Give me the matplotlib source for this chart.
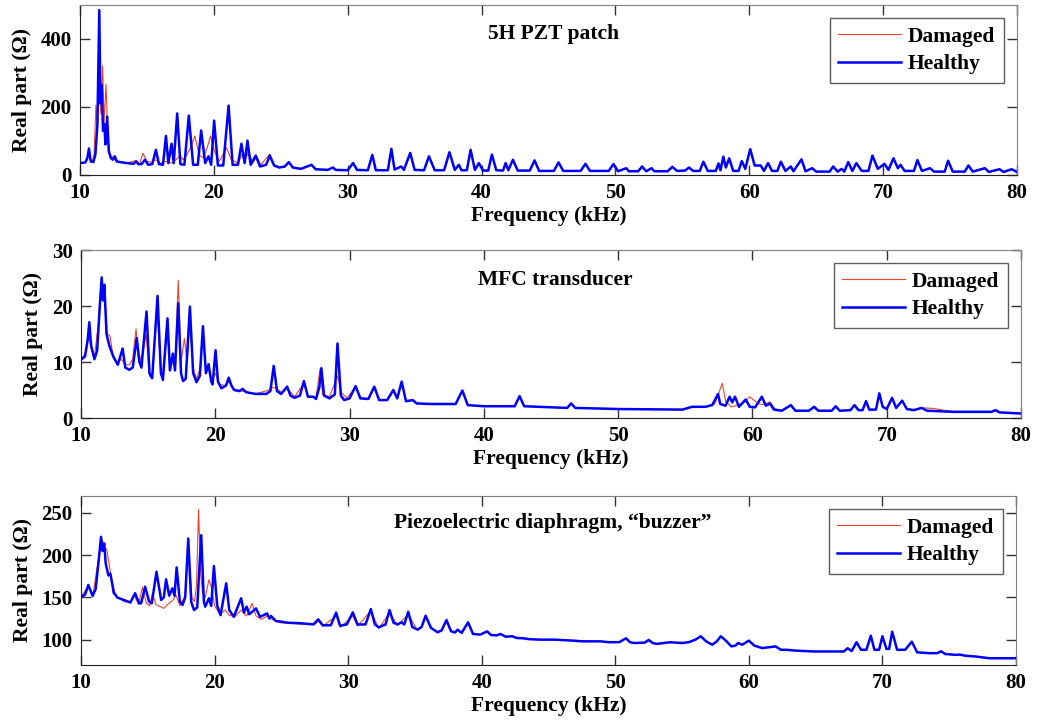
import numpy as np
import matplotlib.pyplot as plt

plt.rcParams['font.family'] = ['Liberation Serif', 'DejaVu Serif']
plt.rcParams['font.weight'] = 'bold'

# (frequency kHz, real part Ohm) points
# --- 5H PZT patch ---
pzt_healthy = [
    (10.0, 35), (10.4, 37), (10.55, 50), (10.67, 78), (10.8, 40), (11.0, 38), (11.15, 60), (11.3, 150),
    (11.44, 485), (11.53, 210), (11.62, 265), (11.72, 130), (11.82, 150), (11.9, 90), (12.03, 172),
    (12.15, 70), (12.3, 50), (12.45, 45), (12.6, 55), (12.75, 40), (13.0, 38), (13.5, 35), (14.0, 33),
    (14.2, 40), (14.35, 32), (14.6, 32), (14.85, 45), (15.1, 30), (15.4, 32), (15.67, 74), (15.9, 32),
    (16.2, 30), (16.42, 115), (16.6, 35), (16.84, 92), (17.0, 35), (17.26, 181), (17.5, 32), (17.8, 30),
    (18.13, 175), (18.45, 30), (18.8, 30), (19.05, 131), (19.35, 35), (19.6, 55), (19.8, 30), (20.02, 160),
    (20.3, 28), (20.7, 28), (21.1, 204), (21.4, 30), (21.8, 30), (22.06, 92), (22.3, 35), (22.51, 101),
    (22.75, 30), (23.13, 57), (23.45, 25), (23.9, 30), (24.18, 57), (24.5, 28), (24.9, 22), (25.3, 25),
    (25.6, 38), (25.9, 22), (26.5, 18), (27.3, 30), (27.6, 17), (28.5, 15), (28.9, 22), (29.1, 15),
    (30.0, 14), (30.4, 35), (30.7, 15), (31.5, 14), (31.84, 59), (32.1, 14), (33.0, 14), (33.26, 77),
    (33.5, 16), (34.0, 25), (34.2, 15), (34.67, 65), (35.0, 15), (35.7, 14), (36.07, 55), (36.5, 14),
    (37.2, 14), (37.6, 67), (38.0, 15), (38.3, 30), (38.5, 14), (38.9, 14), (39.18, 74), (39.5, 15),
    (39.8, 35), (40.1, 13), (40.5, 13), (40.77, 60), (41.1, 14), (41.6, 13), (41.8, 35), (42.0, 14),
    (42.34, 45), (42.7, 13), (43.6, 13), (43.96, 43), (44.3, 12), (45.4, 12), (45.75, 37), (46.1, 12),
    (47.4, 12), (47.76, 33), (48.1, 12), (49.5, 12), (49.85, 32), (50.2, 11), (50.8, 20), (51.0, 11),
    (51.7, 11), (51.99, 25), (52.3, 11), (52.7, 20), (52.9, 11), (53.9, 11), (54.25, 24), (54.6, 12),
    (55.2, 13), (55.5, 22), (55.8, 12), (56.3, 12), (56.57, 39), (56.9, 12), (57.5, 12), (57.7, 34),
    (57.85, 14), (58.06, 54), (58.25, 22), (58.5, 49), (58.8, 12), (59.2, 12), (59.44, 41), (59.7, 18),
    (60.07, 76), (60.4, 28), (60.85, 28), (61.1, 12), (61.4, 35), (61.7, 12), (62.1, 12), (62.36, 39),
    (62.7, 12), (63.1, 25), (63.3, 11), (63.9, 46), (64.2, 11), (64.7, 20), (65.0, 10), (66.0, 10),
    (66.27, 25), (66.6, 10), (66.9, 18), (67.1, 10), (67.39, 38), (67.7, 12), (68.0, 35), (68.4, 12),
    (68.9, 12), (69.2, 57), (69.6, 18), (70.1, 33), (70.4, 15), (70.77, 49), (71.1, 20), (71.3, 30),
    (71.6, 12), (72.3, 12), (72.56, 44), (72.9, 12), (73.5, 20), (73.8, 10), (74.6, 10), (74.85, 42),
    (75.2, 10), (76.1, 10), (76.37, 28), (76.7, 10), (77.6, 20), (77.9, 9), (78.7, 17), (79.0, 9),
    (79.6, 17), (80.0, 9),
]
# damaged curve where it departs from the healthy one
pzt_damaged_part = [
    (10.9, 38), (11.05, 60), (11.19, 205), (11.3, 140), (11.44, 260), (11.55, 180), (11.69, 321),
    (11.8, 150), (11.94, 267), (12.1, 100), (12.25, 60), (12.5, 50), (12.7, 40), (13.5, 35), (14.2, 43),
    (14.45, 33), (14.7, 64), (15.0, 40), (15.4, 38), (15.6, 45), (16.0, 35), (16.4, 40), (16.9, 35),
    (17.3, 50), (17.46, 58), (17.7, 45), (18.0, 60), (18.3, 85), (18.58, 115), (18.9, 60), (19.2, 50),
    (19.5, 80), (19.75, 115), (20.05, 70), (20.4, 40), (20.95, 80), (21.3, 45), (21.8, 35), (22.1, 60),
    (22.3, 40), (22.6, 70), (22.9, 35), (23.2, 55), (23.5, 30), (24.18, 62), (24.5, 28),
]

# --- MFC transducer ---
mfc_healthy = [
    (10.0, 10.4), (10.3, 11.0), (10.5, 14), (10.62, 17.1), (10.75, 13), (11.0, 10.5), (11.2, 12),
    (11.4, 20), (11.54, 25.1), (11.64, 21), (11.74, 23.8), (11.9, 15), (12.1, 13), (12.4, 11),
    (12.74, 9.5), (13.1, 12.4), (13.3, 9), (13.6, 8.6), (13.85, 9), (14.15, 14.3), (14.35, 10),
    (14.5, 9), (14.88, 19.0), (15.1, 8), (15.3, 7.1), (15.7, 21.8), (15.95, 8), (16.1, 6.8),
    (16.44, 17.8), (16.62, 8.5), (16.84, 11.5), (17.0, 8.5), (17.24, 20.5), (17.45, 8), (17.6, 6.6),
    (17.8, 7), (18.11, 19.9), (18.35, 8), (18.6, 6.4), (18.85, 7.5), (19.08, 16.4), (19.3, 8),
    (19.5, 9.6), (19.7, 6.5), (19.8, 6), (20.02, 12.1), (20.2, 6.5), (20.45, 5.3), (20.8, 5.8),
    (21.0, 7.2), (21.2, 5.8), (21.4, 5.0), (21.8, 4.8), (22.04, 5.2), (22.3, 4.6), (23.0, 4.3),
    (23.8, 4.3), (24.1, 4.8), (24.35, 9.3), (24.6, 4.8), (24.9, 4.3), (25.35, 5.6), (25.6, 4.0),
    (25.9, 3.6), (26.3, 4.0), (26.6, 6.6), (26.9, 3.8), (27.3, 3.8), (27.5, 3.4), (27.75, 5.5),
    (27.9, 8.9), (28.1, 4.0), (28.5, 3.5), (28.9, 4.2), (29.1, 13.3), (29.35, 4.0), (29.6, 3.2),
    (30.0, 3.5), (30.45, 5.7), (30.8, 3.5), (31.4, 3.4), (31.84, 5.6), (32.2, 3.2), (32.8, 3.2),
    (33.26, 5.0), (33.55, 3.5), (33.88, 6.5), (34.2, 3.0), (34.7, 3.2), (35.0, 2.6), (36.0, 2.5),
    (37.9, 2.5), (38.4, 4.9), (38.8, 2.3), (40.0, 2.1), (42.3, 2.1), (42.66, 3.9), (43.0, 2.1),
    (46.2, 1.8), (46.5, 2.6), (46.8, 1.8), (50.0, 1.6), (54.8, 1.5), (55.5, 2.0), (56.5, 2.0),
    (57.0, 2.3), (57.44, 4.3), (57.6, 2.5), (58.0, 2.2), (58.3, 3.8), (58.5, 2.8), (58.7, 3.8),
    (59.0, 2.0), (59.5, 3.3), (59.8, 2.0), (60.2, 1.9), (60.7, 3.8), (61.0, 2.2), (61.3, 2.6),
    (61.6, 1.5), (62.2, 1.3), (62.86, 2.3), (63.2, 1.3), (64.2, 1.3), (64.6, 2.0), (64.9, 1.3),
    (65.9, 1.3), (66.2, 2.1), (66.5, 1.3), (67.3, 1.4), (67.6, 2.3), (67.9, 1.4), (68.2, 1.4),
    (68.46, 3.0), (68.7, 1.5), (69.2, 1.5), (69.45, 4.4), (69.7, 2.0), (70.0, 1.6), (70.4, 3.6),
    (70.7, 1.8), (71.15, 3.1), (71.5, 1.6), (72.0, 1.4), (72.6, 1.8), (73.0, 1.3), (74.0, 1.2),
    (75.0, 1.1), (77.8, 1.1), (78.1, 1.4), (78.4, 1.0), (80.0, 0.8),
]
mfc_damaged_part1 = [
    (10.0, 10.4), (10.3, 11.5), (10.6, 14.5), (10.8, 12), (11.0, 10.8), (11.3, 17), (11.5, 24),
    (11.6, 21), (11.75, 23), (11.95, 15), (12.15, 14.7), (12.4, 11), (12.7, 9.8), (13.0, 10.5),
    (13.3, 9.5), (13.6, 9.5), (13.85, 10.5), (14.1, 15.9), (14.3, 10), (14.6, 11.5), (14.85, 15),
    (15.1, 7.5), (15.3, 7.2), (15.65, 20), (15.95, 8), (16.1, 7), (16.4, 17), (16.62, 9), (16.8, 11),
    (17.0, 9), (17.24, 24.6), (17.45, 10), (17.7, 14.2), (17.9, 10), (18.1, 17), (18.35, 9), (18.6, 7),
    (18.9, 9), (19.05, 15.5), (19.3, 8.5), (19.5, 9), (19.7, 6.5), (20.0, 8), (20.3, 6), (20.8, 5.8),
    (21.0, 6.5), (21.4, 5.2), (22.0, 4.8), (23.0, 4.3), (24.0, 5.0), (24.3, 5.5), (24.6, 5.2),
    (25.0, 4.5), (25.35, 5.3), (25.9, 3.8), (26.6, 6.2), (26.9, 3.8), (27.5, 3.6), (27.8, 8.8),
    (28.0, 4.2), (28.5, 3.8), (29.1, 7.5), (29.4, 4.5), (29.8, 3.6), (30.45, 5.5), (30.8, 3.7),
]
mfc_damaged_part2 = [
    (55.5, 1.9), (56.5, 1.9), (57.2, 2.5), (57.76, 6.2), (58.0, 3.0), (58.4, 2.0), (58.8, 2.2),
    (59.4, 2.8), (59.8, 3.8), (60.2, 3.0), (60.5, 2.5), (60.9, 2.4), (61.3, 2.9), (61.7, 1.6),
    (62.2, 1.4),
]
mfc_damaged_part3 = [
    (71.5, 1.6), (72.0, 1.5), (72.8, 1.8), (73.5, 1.7), (74.5, 1.3), (75.0, 1.1),
]

# --- piezoelectric diaphragm ---
buzz_healthy = [
    (10.0, 151), (10.3, 153), (10.55, 164.7), (10.87, 151.7), (11.1, 160), (11.3, 190), (11.5, 221.7),
    (11.62, 205), (11.74, 213.8), (11.85, 190), (11.94, 184), (12.05, 176), (12.2, 178), (12.35, 165),
    (12.45, 155), (12.56, 153.7), (12.7, 150), (13.2, 147), (13.7, 144), (14.05, 155), (14.35, 143),
    (14.5, 143), (14.8, 162.7), (15.1, 145), (15.3, 143), (15.65, 180.4), (16.0, 147), (16.2, 150),
    (16.37, 171.4), (16.6, 152), (16.84, 160.8), (17.0, 152), (17.16, 185.5), (17.4, 145), (17.6, 141),
    (17.8, 150), (18.03, 219.7), (18.25, 145), (18.46, 135), (18.7, 138), (19.0, 223.7), (19.2, 145),
    (19.3, 139), (19.58, 149), (19.75, 140), (19.95, 187), (20.2, 140), (20.45, 129), (20.87, 166.7),
    (21.1, 135), (21.44, 127), (21.99, 149), (22.2, 132), (22.4, 139), (22.6, 130), (23.1, 137),
    (23.4, 127), (23.93, 131), (24.1, 125), (24.23, 128), (24.6, 122), (24.9, 121.5), (25.5, 120),
    (26.4, 119.5), (27.4, 118), (27.76, 124), (28.1, 117), (28.7, 117), (29.1, 132), (29.4, 116.5),
    (29.9, 118), (30.35, 132.3), (30.7, 118), (31.3, 118), (31.7, 136.2), (32.0, 118), (32.3, 114.6),
    (32.8, 118), (33.1, 135), (33.4, 120), (33.7, 118), (34.0, 120.5), (34.2, 118), (34.5, 133),
    (34.8, 115), (35.2, 111.8), (35.5, 115), (35.8, 128.3), (36.2, 114), (36.7, 108.7), (37.0, 111),
    (37.36, 123.2), (37.7, 110), (38.0, 108.5), (38.2, 111.8), (38.5, 108), (38.98, 120.5),
    (39.35, 106.7), (39.9, 106), (40.4, 109.8), (40.7, 105.5), (41.1, 105), (41.4, 106.7), (41.8, 103.5),
    (42.3, 104), (42.6, 102), (43.1, 101.6), (43.6, 100.5), (44.4, 100), (45.5, 100), (46.0, 99.5),
    (46.9, 98.8), (47.5, 98), (48.9, 98), (49.5, 97), (50.3, 97), (50.8, 101.6), (51.1, 97), (51.4, 96),
    (52.2, 96.5), (52.5, 99.6), (52.8, 96), (53.1, 95), (54.1, 96.9), (55.0, 96), (55.5, 97), (56.0, 100),
    (56.4, 104), (56.8, 98), (57.26, 94), (57.6, 98), (57.9, 104), (58.2, 100), (58.7, 92), (59.0, 93),
    (59.2, 96), (59.5, 94), (60.0, 98.8), (60.4, 93), (61.0, 90), (61.5, 91), (62.0, 92), (62.4, 88),
    (62.8, 88), (63.5, 87), (64.9, 86), (66.7, 86), (67.1, 86), (67.4, 89.8), (67.7, 86.5),
    (68.06, 96.9), (68.4, 88), (68.8, 88), (69.13, 104.7), (69.4, 88), (69.75, 88), (70.0, 104),
    (70.3, 89), (70.5, 89), (70.73, 109.4), (71.1, 88), (71.7, 88), (72.2, 97.6), (72.6, 85), (73.5, 84),
    (74.1, 84), (74.4, 86.2), (74.7, 83), (75.5, 82), (75.8, 82.3), (76.2, 81), (77.0, 80), (78.0, 78),
    (80.0, 78),
]
buzz_damaged_part = [
    (10.0, 151), (10.55, 163), (10.9, 153), (11.3, 195), (11.5, 214), (11.62, 217), (11.75, 210),
    (11.94, 206), (12.1, 190), (12.3, 170), (12.6, 152), (13.2, 145), (13.7, 144), (14.0, 152),
    (14.3, 142), (14.6, 162), (14.9, 143), (15.15, 140), (15.35, 155), (15.6, 142), (15.8, 140),
    (16.2, 137), (16.5, 142), (16.9, 147), (17.1, 153), (17.4, 140), (17.8, 152), (18.03, 210),
    (18.3, 150), (18.5, 145), (18.65, 165), (18.8, 254), (18.95, 180), (19.1, 155), (19.3, 150),
    (19.58, 171), (19.8, 160), (20.0, 140), (20.4, 130), (20.8, 135), (21.1, 129), (21.5, 127),
    (22.0, 135), (22.4, 128), (22.81, 143), (23.1, 128), (23.5, 124), (23.93, 128), (24.3, 124),
    (24.9, 120), (26.4, 118.5), (27.5, 118), (27.76, 122), (28.1, 116), (29.1, 128), (29.4, 114.5),
    (30.35, 128), (30.7, 116), (31.7, 134), (32.3, 113), (33.1, 132), (33.7, 117), (34.5, 130),
    (35.2, 111),
]

titles = ['5H PZT patch', 'MFC transducer', 'Piezoelectric diaphragm, \u201cbuzzer\u201d']
ylims = [(0, 500), (0, 30), (70, 270)]
yticks = [[0, 200, 400], [0, 10, 20, 30], [100, 150, 200, 250]]
xticks = [10, 20, 30, 40, 50, 60, 70, 80]


def splice(base, part):
    # replace the healthy points inside the part's range by the damaged ones
    base = np.array(base, dtype=float)
    part = np.array(part, dtype=float)
    lo, hi = part[0, 0], part[-1, 0]
    keep_lo = base[base[:, 0] < lo]
    keep_hi = base[base[:, 0] > hi]
    return np.vstack([keep_lo, part, keep_hi])


healthy = [np.array(pzt_healthy), np.array(mfc_healthy), np.array(buzz_healthy)]
mfc_dam = splice(splice(splice(mfc_healthy, mfc_damaged_part1), mfc_damaged_part2), mfc_damaged_part3)
damaged = [splice(pzt_healthy, pzt_damaged_part), mfc_dam, splice(buzz_healthy, buzz_damaged_part)]

# axes boxes in pixels (left, top, right, bottom)
W, H = 1037, 726
boxes = [(80, 5, 1017, 175), (81, 250, 1021, 418), (81, 496, 1016, 665)]
title_y = [0.83, 0.82, 0.84]

fig = plt.figure(figsize=(W / 100, H / 100), dpi=100)
for i in range(3):
    l, t, r, b = boxes[i]
    ax = fig.add_axes([l / W, 1 - b / H, (r - l) / W, (b - t) / H])
    d = damaged[i]
    h = healthy[i]
    ax.plot(d[:, 0], d[:, 1], color='#e8472b', lw=0.8, label='Damaged')
    ax.plot(h[:, 0], h[:, 1], color='#0000ff', lw=1.8, label='Healthy')
    ax.set_xlim(10, 80)
    ax.set_ylim(*ylims[i])
    ax.set_xticks(xticks)
    ax.set_yticks(yticks[i])
    ax.tick_params(direction='in', length=7, width=1, top=True, right=True,
                   labelsize=15, pad=6, color='#333333')
    for lab in ax.get_xticklabels() + ax.get_yticklabels():
        lab.set_fontweight('bold')
    for s in ['top', 'right']:
        ax.spines[s].set_color('#808080')
    for s in ['bottom', 'left']:
        ax.spines[s].set_color('#222222')
    ax.set_xlabel('Frequency (kHz)', fontsize=15.5, fontweight='bold', labelpad=2)
    ax.set_ylabel('Real part (\u03a9)', fontsize=15.5, fontweight='bold', labelpad=6)
    ax.text(0.505, title_y[i], titles[i], transform=ax.transAxes, ha='center', va='center',
            fontsize=15.5, fontweight='bold')
    leg = ax.legend(loc='upper right', fontsize=15.5, frameon=True, fancybox=False,
                    handlelength=2.9, handletextpad=0.35, borderpad=0.4, labelspacing=0.35,
                    borderaxespad=0.6)
    leg.get_frame().set_edgecolor('#333333')
    leg.get_frame().set_linewidth(1.0)

fig.savefig('out.png', dpi=100)
